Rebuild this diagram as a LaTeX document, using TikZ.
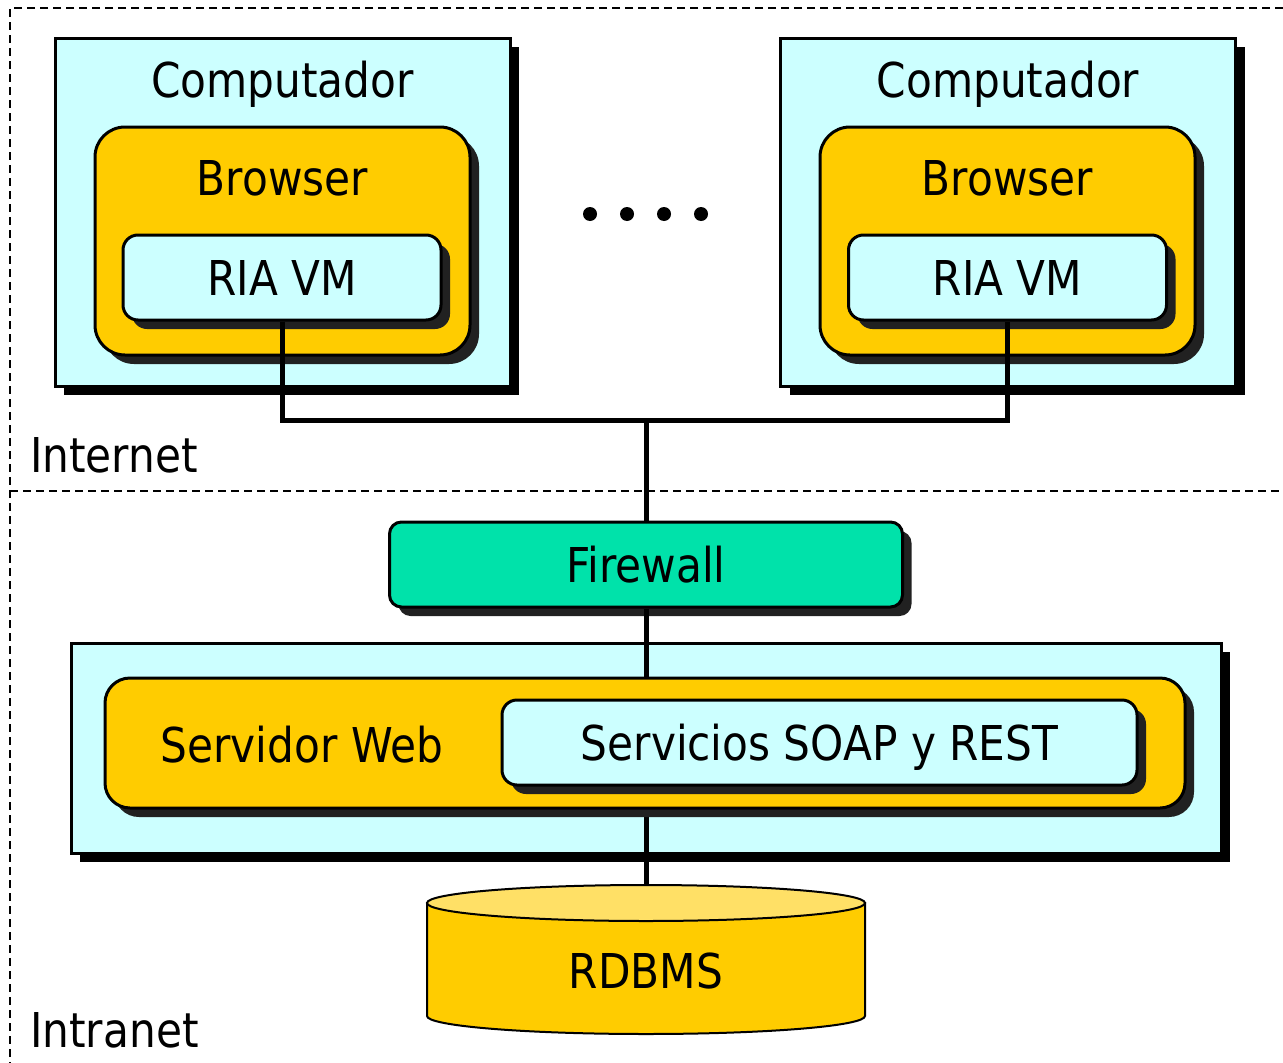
\documentclass[tikz,border=0pt]{standalone}
\usepackage{fontspec}
\setmainfont{DejaVu Sans}[FakeStretch=0.88]
\usetikzlibrary{shadows}
\definecolor{boxcyan}{HTML}{CCFFFF}
\definecolor{boxgold}{HTML}{FFCC00}
\definecolor{boxgreen}{HTML}{00E2AA}
\definecolor{dblid}{HTML}{FFE066}

\begin{document}
\begin{tikzpicture}[x=1pt,y=-1pt,
    font=\fontsize{48}{58}\selectfont,
    txt/.style={inner sep=0pt,text height=35pt,text depth=0pt},
    hostbox/.style={draw,line width=3pt,fill=boxcyan,inner sep=0pt,
        drop shadow={shadow xshift=9pt,shadow yshift=-9pt,fill=black,opacity=1}},
    roundbox/.style={draw,line width=3pt,inner sep=0pt,rounded corners=#1,
        drop shadow={shadow xshift=9pt,shadow yshift=-9pt,fill=black!87,opacity=1}},
    wire/.style={line width=5pt},
    zone/.style={dash pattern=on 8pt off 5pt,line width=1.6pt}]
        \useasboundingbox (0,0) rectangle (1283,1063);

        % zones
        \draw[zone] (1283,8) -- (10,8) -- (10,1063);
        \draw[zone] (10,491) -- (1283,491);
        \node[txt,anchor=west] (inet) at (30,455) {Internet};
        \node[txt,anchor=west] (intra) at (30,1030) {Intranet};

        % left computer
        \node[hostbox,minimum width=455pt,minimum height=348pt] (pc1) at (282.5,212) {};
        \node[txt] (pc1t) at (282.5,79.5) {Computador};
        \node[roundbox=30pt,fill=boxgold,minimum width=375pt,minimum height=228pt] (br1) at (282.5,241) {};
        \node[txt] (br1t) at (282.5,177.5) {Browser};
        \node[roundbox=15pt,fill=boxcyan,minimum width=318pt,minimum height=85pt,txt] (ria1) at (282,277.5) {RIA VM};

        % right computer
        \node[hostbox,minimum width=455pt,minimum height=348pt] (pc2) at (1008,212) {};
        \node[txt] (pc2t) at (1008,79.5) {Computador};
        \node[roundbox=30pt,fill=boxgold,minimum width=375pt,minimum height=228pt] (br2) at (1007.5,241) {};
        \node[txt] (br2t) at (1007.5,177.5) {Browser};
        \node[roundbox=15pt,fill=boxcyan,minimum width=318pt,minimum height=85pt,txt] (ria2) at (1007.5,277.5) {RIA VM};

        \foreach \x in {590,627,664,701}
            \fill (\x,214) circle (7pt);

        % links to the firewall
        \coordinate (bus) at (646,420);
        \draw[wire] (ria1.south) |- (bus) -| (ria2.south);
        \node[roundbox=12pt,fill=boxgreen,minimum width=513pt,minimum height=85pt,txt] (fw) at (646,564.5) {Firewall};
        \draw[wire] (bus) -- (fw.north);

        % server
        \node[hostbox,minimum width=1150pt,minimum height=210pt] (srv) at (646,748) {};
        \coordinate (dbtop) at (646,885);
        \draw[wire] (fw.south) -- (dbtop);
        \node[roundbox=25pt,fill=boxgold,minimum width=1080pt,minimum height=130pt] (web) at (645,743) {};
        \node[txt] (webt) at (302,745) {Servidor Web};
        \node[roundbox=15pt,fill=boxcyan,minimum width=635pt,minimum height=85pt,txt] (soap) at (819.5,742.5) {Servicios SOAP y REST};

        % database
        \filldraw[fill=boxgold,line width=2pt] (427,903) -- (427,1016)
            arc[start angle=180,end angle=360,x radius=219pt,y radius=18pt] -- (865,903) -- cycle;
        \filldraw[fill=dblid,line width=2pt] (646,903) ellipse [x radius=219pt,y radius=18pt];
        \node[txt] (db) at (646,970.5) {RDBMS};
    \end{tikzpicture}
\end{document}
